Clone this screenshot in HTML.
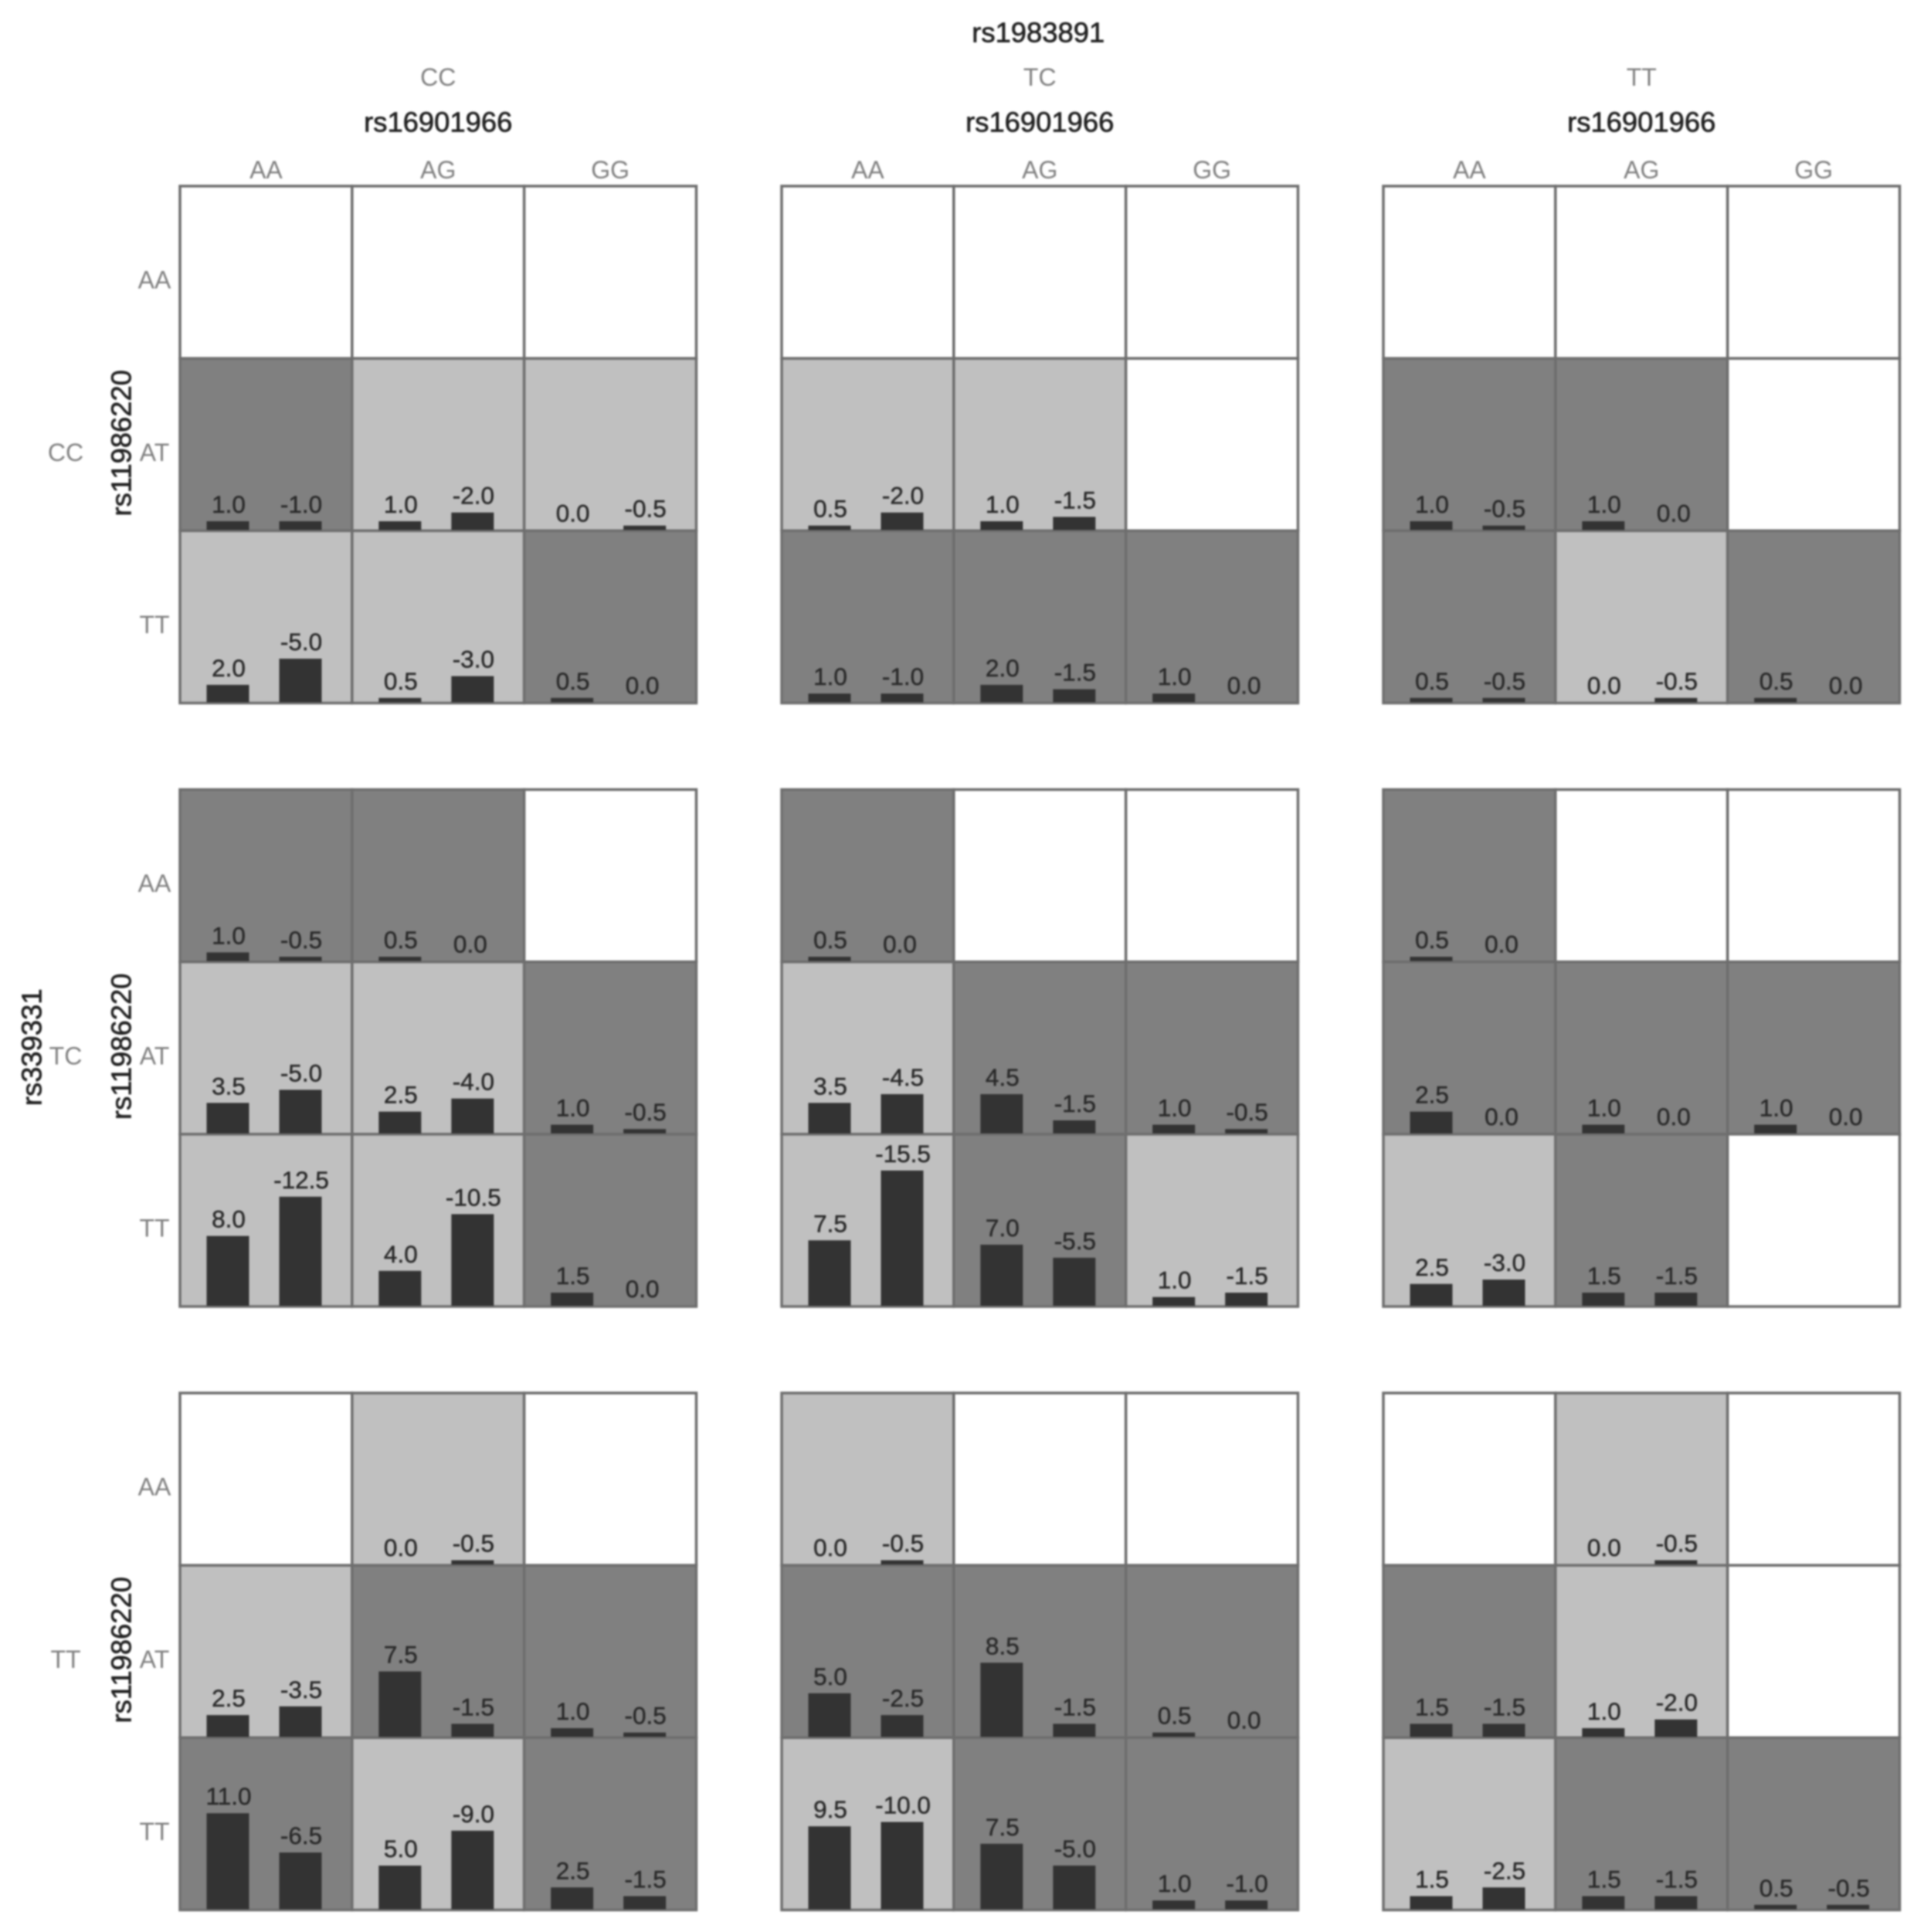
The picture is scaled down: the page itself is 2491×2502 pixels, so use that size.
<!DOCTYPE html>
<html lang="en">
<head>
<meta charset="utf-8">
<title>Genotype combination bar grid</title>
<style>
html,body{margin:0;padding:0;background:#fff;}
#chart{display:block;width:2491px;height:2502px;filter:blur(1px);font-family:"Liberation Sans",sans-serif;}
</style>
</head>
<body>
<svg id="chart" xmlns="http://www.w3.org/2000/svg" width="2491" height="2502" viewBox="0 0 2491 2502"></svg>
<script>
const outerColumnLabels = ['CC', 'TC', 'TT'];
const outerRowLabels = ['CC', 'TC', 'TT'];
const innerColumnLabels = ['AA', 'AG', 'GG'];
const innerRowLabels = ['AA', 'AT', 'TT'];
const outerColumnTitle = 'rs1983891';
const outerRowTitle = 'rs339331';
const innerColumnTitle = 'rs16901966';
const innerRowTitle = 'rs11986220';

// Cell shading per panel (outer row, outer column, then 9 cells): w = none, d = dark, l = light
const cellShades = [
  [['www','dll','lld'], ['www','llw','ddd'], ['www','ddw','dld']],
  [['ddw','lld','lld'], ['dww','ldd','ldl'], ['dww','ddd','ldw']],
  [['wlw','ldd','dld'], ['lww','ddd','ldd'], ['wlw','dlw','ldd']]
];

// Positive (left) bar values; null = empty cell
const leftValues = [
  [
    [[null,null,null],[1.0,1.0,0.0],[2.0,0.5,0.5]],
    [[null,null,null],[0.5,1.0,null],[1.0,2.0,1.0]],
    [[null,null,null],[1.0,1.0,null],[0.5,0.0,0.5]]
  ],
  [
    [[1.0,0.5,null],[3.5,2.5,1.0],[8.0,4.0,1.5]],
    [[0.5,null,null],[3.5,4.5,1.0],[7.5,7.0,1.0]],
    [[0.5,null,null],[2.5,1.0,1.0],[2.5,1.5,null]]
  ],
  [
    [[null,0.0,null],[2.5,7.5,1.0],[11.0,5.0,2.5]],
    [[0.0,null,null],[5.0,8.5,0.5],[9.5,7.5,1.0]],
    [[null,0.0,null],[1.5,1.0,null],[1.5,1.5,0.5]]
  ]
];

// Negative (right) bar values; null = empty cell
const rightValues = [
  [
    [[null,null,null],[-1.0,-2.0,-0.5],[-5.0,-3.0,0.0]],
    [[null,null,null],[-2.0,-1.5,null],[-1.0,-1.5,0.0]],
    [[null,null,null],[-0.5,0.0,null],[-0.5,-0.5,0.0]]
  ],
  [
    [[-0.5,0.0,null],[-5.0,-4.0,-0.5],[-12.5,-10.5,0.0]],
    [[0.0,null,null],[-4.5,-1.5,-0.5],[-15.5,-5.5,-1.5]],
    [[0.0,null,null],[0.0,0.0,0.0],[-3.0,-1.5,null]]
  ],
  [
    [[null,-0.5,null],[-3.5,-1.5,-0.5],[-6.5,-9.0,-1.5]],
    [[-0.5,null,null],[-2.5,-1.5,0.0],[-10.0,-5.0,-1.0]],
    [[null,-0.5,null],[-1.5,-2.0,null],[-2.5,-1.5,-0.5]]
  ]
];

const SVG_NS = 'http://www.w3.org/2000/svg';
const svg = document.getElementById('chart');
const shadeColors = { w: '#ffffff', d: '#808080', l: '#c0c0c0' };
const panelWidth = 668.5;
const panelHeight = 669.5;
const cellWidth = panelWidth / 3;
const cellHeight = panelHeight / 3;
const barWidth = 55;
const unitHeight = 11.3;

function panelX(col) { return 233 + col * 779; }
function panelY(row) { return 241 + row * 781.5; }
function cellX(col, innerCol) { return panelX(col) + innerCol * cellWidth; }
function cellY(row, innerRow) { return panelY(row) + innerRow * cellHeight; }
function barLeftCenter(col, innerCol) { return cellX(col, innerCol) + 62; }
function barRightCenter(col, innerCol) { return cellX(col, innerCol) + 156; }
function barHeight(value) { return Math.abs(value) * unitHeight; }

function makeText(parent, x, y, str, size, color, rotate, weight) {
  const t = document.createElementNS(SVG_NS, 'text');
  t.setAttribute('x', x);
  t.setAttribute('y', y);
  t.setAttribute('font-size', size);
  t.setAttribute('fill', color);
  t.setAttribute('text-anchor', 'middle');
  t.setAttribute('dominant-baseline', 'central');
  if (weight) {
    t.setAttribute('stroke', color);
    t.setAttribute('stroke-width', weight);
  }
  if (rotate) t.setAttribute('transform', 'rotate(-90 ' + x + ' ' + y + ')');
  t.textContent = str;
  parent.appendChild(t);
  return t;
}

function makeRect(parent, x, y, w, h, fill, stroke, sw) {
  const r = document.createElementNS(SVG_NS, 'rect');
  r.setAttribute('x', x);
  r.setAttribute('y', y);
  r.setAttribute('width', w);
  r.setAttribute('height', h);
  r.setAttribute('fill', fill);
  if (stroke) {
    r.setAttribute('stroke', stroke);
    r.setAttribute('stroke-width', sw);
  }
  parent.appendChild(r);
  return r;
}

function drawBar(parent, cx, baseY, value, side) {
  const h = barHeight(value);
  if (h > 0) {
    const bar = makeRect(parent, cx - barWidth / 2, baseY - h, barWidth, h, '#333333');
    
    
  }
  const shift = (side === 'right' && value >= 0) ? -4 : 0;
  const label = makeText(parent, cx + 1 + shift, baseY - h - 22, value.toFixed(1), 31.5, '#2a2a2a', false, 0.5);
  
  
}

const mainTitle = makeText(svg, panelX(1) + panelWidth / 2 - 2, 42, outerColumnTitle, 36.4, '#222222', false, 0.7);



const sideTitle = makeText(svg, 41, panelY(1) + panelHeight / 2 - 1, outerRowTitle, 36.4, '#222222', true, 0.7);



outerColumnLabels.forEach(function (label, col) {
  const center = panelX(col) + panelWidth / 2;
  const a = makeText(svg, center, 100, label, 32, '#808080');
  
  
  const b = makeText(svg, center, 158, innerColumnTitle, 36.4, '#222222', false, 0.7);
  
  
  innerColumnLabels.forEach(function (inner, innerCol) {
    const c = makeText(svg, cellX(col, innerCol) + cellWidth / 2, 220, inner, 32, '#808080');
    
    
  });
});

outerRowLabels.forEach(function (label, row) {
  const center = panelY(row) + panelHeight / 2;
  const a = makeText(svg, 85, center + 10, label, 32, '#808080');
  
  
  const b = makeText(svg, 157, center - 2, innerRowTitle, 36.4, '#222222', true, 0.7);
  
  
  innerRowLabels.forEach(function (inner, innerRow) {
    const c = makeText(svg, 200, cellY(row, innerRow) + cellHeight / 2 + 10, inner, 32, '#808080');
    
    
  });
});

outerRowLabels.forEach(function (rowLabel, row) {
  outerColumnLabels.forEach(function (colLabel, col) {
    const panel = document.createElementNS(SVG_NS, 'g');
    
    
    svg.appendChild(panel);

    innerRowLabels.forEach(function (ir, innerRow) {
      innerColumnLabels.forEach(function (ic, innerCol) {
        const shade = cellShades[row][col][innerRow][innerCol];
        const x = cellX(col, innerCol);
        const y = cellY(row, innerRow);
        const cell = makeRect(panel, x, y, cellWidth, cellHeight, shadeColors[shade], '#6e6e6e', 3.5);
        
        
      });
    });

    innerRowLabels.forEach(function (ir, innerRow) {
      innerColumnLabels.forEach(function (ic, innerCol) {
        const left = leftValues[row][col][innerRow][innerCol];
        const right = rightValues[row][col][innerRow][innerCol];
        const baseY = cellY(row, innerRow + 1) - 1;
        if (left !== null) drawBar(panel, barLeftCenter(col, innerCol), baseY, left, 'left');
        if (right !== null) drawBar(panel, barRightCenter(col, innerCol), baseY, right, 'right');
      });
    });
  });
});
</script>
</body>
</html>
